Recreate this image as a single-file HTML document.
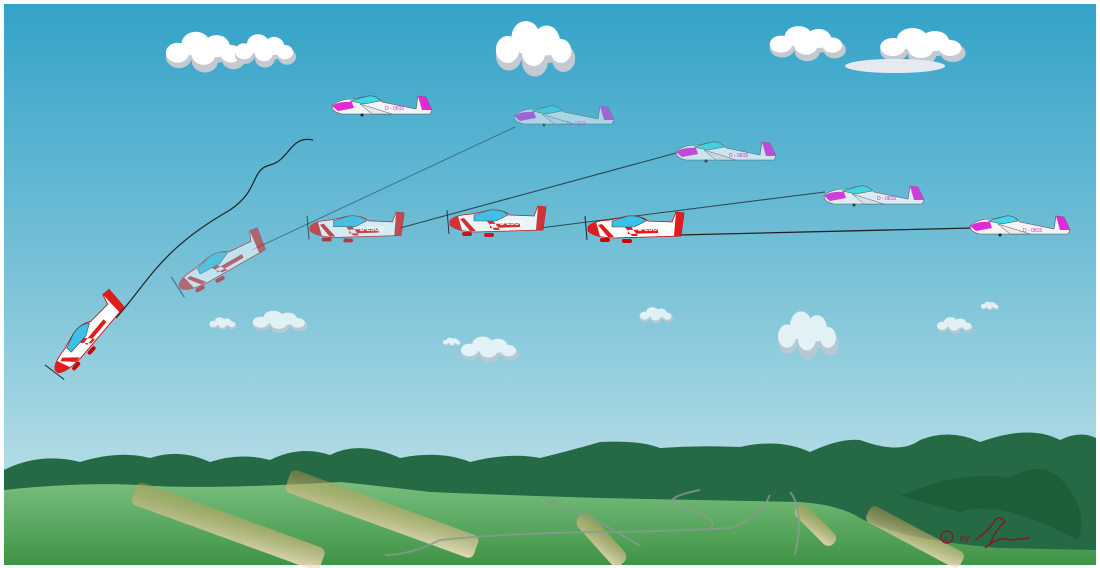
<!DOCTYPE html>
<html><head><style>body{margin:0;background:#fff}svg{display:block}</style></head><body>
<svg width="1100" height="568" viewBox="0 0 1100 568" xmlns="http://www.w3.org/2000/svg" font-family="Liberation Sans, sans-serif">
<defs>
<linearGradient id="sky" x1="0" y1="0" x2="0" y2="1"><stop offset="0" stop-color="#33a3c8"/><stop offset="0.5" stop-color="#7cc3d8"/><stop offset="1" stop-color="#cde8ec"/></linearGradient>
<linearGradient id="grass" x1="0" y1="0" x2="0" y2="1"><stop offset="0" stop-color="#78bd7e"/><stop offset="1" stop-color="#3f9445"/></linearGradient>
<linearGradient id="field" x1="0" y1="0" x2="1" y2="1"><stop offset="0" stop-color="#b89040" stop-opacity="0.5"/><stop offset="1" stop-color="#fde8d0"/></linearGradient>
<g id="plane">
<path d="M0,15 Q4,9 22,8 L40,4 Q52,3 60,9 L84,10 L88,0 L96,1 L93,24 L25,26 Q6,25 0,19 Z" fill="#fff" stroke="#c00" stroke-width="0.8"/>
<path d="M0,15 Q2,11 8,10 L12,24 Q4,23 0,19Z M88,0 L96,1 L93,24 L86,24Z M40,18 L70,17 L70,21 L40,22Z M32,9 L44,24 L50,24 L38,8Z M14,12 L26,25 L20,25 L10,13Z" fill="#e21c1c"/>
<path d="M24,9 L40,4 Q52,3 58,9 L46,15 L24,15Z" fill="#3cc0e8" stroke="#444" stroke-width="0.6"/>
<rect x="12" y="26" width="10" height="4" rx="2" fill="#c00"/><rect x="34" y="27" width="10" height="4" rx="2" fill="#c00"/>
<line x1="-3" y1="4" x2="-1" y2="28" stroke="#222" stroke-width="1"/>
</g>
<g id="glider">
<path d="M0,10 Q6,3 22,3 L36,0 Q44,-1 50,6 L84,13 L86,0 L94,1 L100,14 L98,18 L10,18 Q0,16 0,10Z" fill="#f4f4f8" stroke="#555" stroke-width="0.6"/>
<path d="M0,10 Q6,5 20,6 L22,12 L6,15Z M86,0 L94,1 L100,14 L90,14Z" fill="#e02ad8"/>
<path d="M18,5 L36,0 Q44,-1 48,5 L32,8 Z" fill="#40d8e8" stroke="#444" stroke-width="0.5"/>
<path d="M28,8 L60,18 L40,18 Z" fill="#e8e8ee" stroke="#555" stroke-width="0.5"/>
<circle cx="30" cy="19" r="1.5" fill="#222"/>
</g>
<g id="cloud">
<g fill="#c4c9d2" transform="translate(1,3)"><circle cx="12" cy="18" r="10"/><circle cx="26" cy="10" r="12"/><circle cx="42" cy="12" r="11"/><circle cx="54" cy="20" r="9"/><circle cx="32" cy="22" r="10"/></g>
<g fill="#fff"><circle cx="12" cy="17" r="9"/><circle cx="26" cy="9" r="11"/><circle cx="42" cy="11" r="10"/><circle cx="53" cy="18" r="8"/><circle cx="32" cy="19" r="9"/></g>
</g>
</defs>
<rect x="0" y="0" width="1100" height="568" fill="#fff"/>
<rect x="4" y="4" width="1092" height="561" fill="url(#sky)"/>
<use href="#cloud" transform="translate(162,34) scale(1.3,1.1)"/>
<use href="#cloud" transform="translate(232,36) scale(1.0,0.9)"/>
<use href="#cloud" transform="translate(492,24) scale(1.3,1.5)"/>
<use href="#cloud" transform="translate(766,28) scale(1.25,0.95)"/>
<use href="#cloud" transform="translate(876,30) scale(1.4,1.0)"/>
<ellipse cx="895" cy="66" rx="50" ry="7" fill="#e6eaf0"/>
<g opacity="0.75">
<use href="#cloud" transform="translate(208,318) scale(0.45,0.35)"/>
<use href="#cloud" transform="translate(250,312) scale(0.9,0.6)"/>
<use href="#cloud" transform="translate(638,308) scale(0.55,0.45)"/>
<use href="#cloud" transform="translate(458,338) scale(0.95,0.7)"/>
<use href="#cloud" transform="translate(442,338) scale(0.3,0.25)"/>
<use href="#cloud" transform="translate(775,314) scale(1.0,1.3)"/>
<use href="#cloud" transform="translate(935,318) scale(0.6,0.45)"/>
<use href="#cloud" transform="translate(980,302) scale(0.3,0.25)"/>
</g>
<path d="M116,318 C150,280 160,250 230,210 C260,190 250,170 270,165 C290,160 290,135 313,140" fill="none" stroke="#222" stroke-width="1.2"/>
<line x1="252" y1="250" x2="515" y2="127" stroke="#2c5a6a" stroke-width="1" opacity="0.7"/>
<line x1="400" y1="228" x2="676" y2="153" stroke="#2c4a55" stroke-width="1.1"/>
<line x1="540" y1="228" x2="825" y2="192" stroke="#2c4a55" stroke-width="1.1"/>
<line x1="678" y1="235" x2="972" y2="228" stroke="#222" stroke-width="1.3"/>
<use href="#glider" transform="translate(332,96)"/>
<g opacity="0.55"><use href="#glider" transform="translate(514,106)"/></g>
<g opacity="0.75"><use href="#glider" transform="translate(676,142)"/></g>
<g opacity="0.85"><use href="#glider" transform="translate(824,186)"/></g>
<use href="#glider" transform="translate(970,216)"/>
<g font-size="5" fill="#d02ad0"><text x="385" y="110">D - 0815</text><text x="567" y="125" opacity="0.6">D - 0815</text><text x="729" y="157">D - 0815</text><text x="877" y="200">D - 0815</text><text x="1023" y="232">D - 0815</text></g>
<use href="#plane" transform="translate(588,212)"/>
<g opacity="0.85"><use href="#plane" transform="translate(450,206)"/></g>
<g opacity="0.7"><use href="#plane" transform="translate(310,212) scale(0.98)"/></g>
<g opacity="0.55"><use href="#plane" transform="translate(172,272) rotate(-28)"/></g>
<use href="#plane" transform="translate(44,360) rotate(-48)"/>
<g font-size="6" font-weight="bold" fill="#fff"><text x="638" y="231">D-ESOO</text><text x="500" y="225">D-ESOO</text><text x="360" y="231">D-ESOO</text></g>
<path d="M4,470 Q40,452 80,462 Q120,450 150,458 Q180,448 210,462 Q240,452 270,460 Q300,445 330,455 Q360,440 400,458 Q440,450 470,462 Q510,452 540,458 Q580,448 600,442 Q640,440 660,448 Q700,445 740,447 Q780,438 810,452 Q840,438 860,440 Q900,455 920,440 Q950,428 980,442 Q1030,424 1060,440 Q1080,430 1096,438 L1096,565 L4,565Z" fill="#266a45"/>
<path d="M4,490 Q80,482 140,485 Q200,490 340,482 Q380,486 430,492 Q500,495 600,498 Q700,500 800,502 Q840,505 860,518 Q900,540 1000,548 L1096,550 L1096,565 L4,565Z" fill="url(#grass)"/>
<path d="M900,496 Q960,470 1010,478 Q1040,460 1060,478 Q1090,510 1078,540 Q1040,520 1010,512 Q980,505 960,512 Q930,504 900,496Z" fill="#1c5a36" opacity="0.85"/>
<g fill="url(#field)" opacity="0.85">
<rect x="128" y="514" width="200" height="24" rx="6" transform="rotate(20 227 527)"/>
<rect x="282" y="502" width="200" height="24" rx="6" transform="rotate(20 382 514)"/>
<rect x="570" y="529" width="64" height="18" rx="8" transform="rotate(48 600 538)"/>
<rect x="790" y="517" width="52" height="15" rx="7" transform="rotate(45 815 524)"/>
<rect x="862" y="528" width="106" height="18" rx="6" transform="rotate(28 915 537)"/>
</g>
<path d="M385,555 Q410,555 440,540 Q520,532 620,532 Q700,530 730,528 Q760,518 770,495 M545,500 Q600,520 640,546 M700,490 Q650,500 690,510 Q720,520 710,528 M790,492 Q805,510 795,555" fill="none" stroke="#8a9a8e" stroke-width="2" opacity="0.8"/>
<g fill="#7a2020"><circle cx="947" cy="537" r="6" fill="none" stroke="#7a2020" stroke-width="1.5"/><text x="944" y="541" font-size="8">c</text><text x="960" y="541" font-size="9">by</text></g>
<path d="M975,540 Q990,530 995,520 Q1000,515 1005,522 Q995,530 990,545 M985,548 Q1000,535 1010,540 L1030,538" fill="none" stroke="#7a2020" stroke-width="1.5"/>
</svg>
</body></html>
